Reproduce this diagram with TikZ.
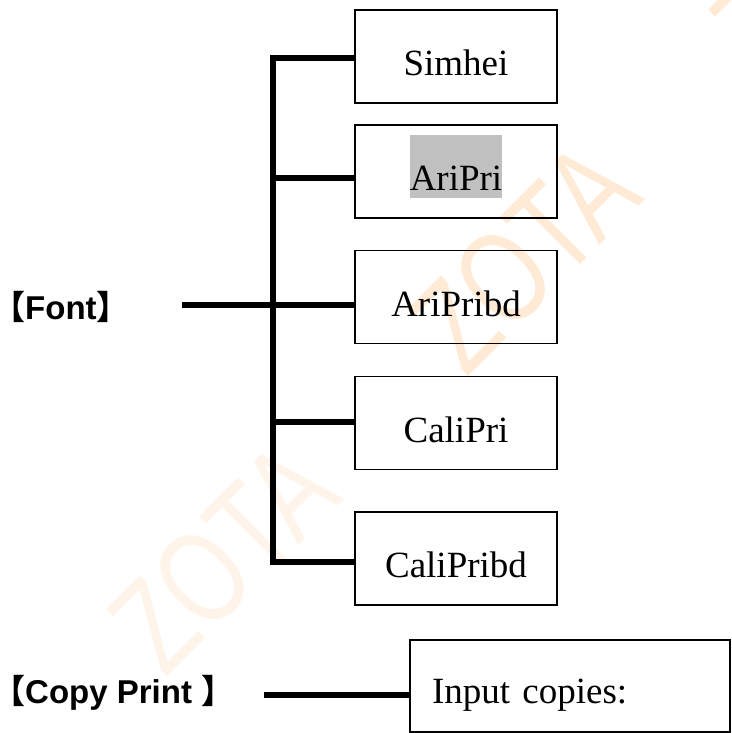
\documentclass[tikz,border=0pt]{standalone}
\usepackage{fontspec}
\setmainfont{Liberation Serif}
\setsansfont{Liberation Sans}
\newfontfamily\cjk{Noto Sans CJK SC}
\definecolor{wmpale}{RGB}{255,244,234}
\definecolor{wmorange}{RGB}{255,234,214}
\definecolor{hlgrey}{RGB}{192,192,192}
\newcommand\greymark[1]{{\setlength{\fboxsep}{0pt}\colorbox{hlgrey}{\rule[-7pt]{0pt}{63pt}#1}}}
\begin{document}
\begin{tikzpicture}[x=1pt,y=-1pt,
    wire/.style={line width=5.5pt},
    fontbox/.style={draw,line width=1.6pt,minimum width=202pt,minimum height=93pt,
      inner sep=0pt,text height=38pt,text depth=0pt,font=\fontsize{37}{40}\selectfont},
    menulabel/.style={anchor=base west,inner sep=0pt,font=\fontsize{33}{36}\selectfont\sffamily\bfseries},
    wmtext/.style={anchor=base west,inner sep=0pt,rotate=45,xscale=0.75,
      font=\fontsize{131}{131}\selectfont\sffamily}]
  \useasboundingbox (0,0) rectangle (731,733);
  \foreach \i/\c in {0/wmpale,1/wmorange,2/wmorange}
    \node[wmtext,text=\c] (zota\i) at (165+301*\i,679-300*\i) {ZOTA};
  \foreach \name/\txt/\y/\by in {simhei/Simhei/56.5/58,aripri/\greymark{AriPri}/171.5/178,
      aripribd/AriPribd/297/305,calipri/CaliPri/423/422,calipribd/CaliPribd/558.5/562} {%
    \node[fontbox] (\name) at (456,\y) {\txt};
    \coordinate (\name-in) at (273,\by);
    \draw[wire] (\name-in) -- (\name-in -| \name.west);
  }
  \draw[wire,line cap=rect] (simhei-in) -- (calipribd-in);
  \node[menulabel] (font) at (-8,319) {{\cjk 【}Font{\cjk 】}};
  \coordinate (font-out) at (182,305);
  \draw[wire] (font-out) -- (font-out -| aripribd.west);
  \node[fontbox,minimum width=320pt,minimum height=92pt,text width=276pt,align=left,
    inner xsep=22pt,text height=34pt] (copies) at (570,686) {Input copies:};
  \node[menulabel] (copyprint) at (-8,703) {{\cjk 【}Copy Print {\cjk 】}};
  \coordinate (copy-out) at (264,695);
  \draw[wire] (copy-out) -- (copy-out -| copies.west);
\end{tikzpicture}
\end{document}
